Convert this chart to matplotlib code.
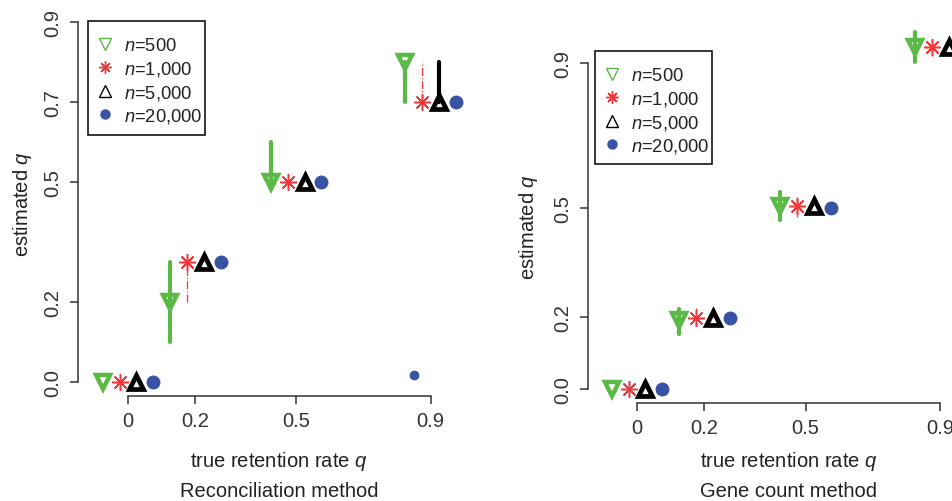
import matplotlib
matplotlib.use('Agg')
from matplotlib import pyplot as plt
from matplotlib.lines import Line2D
from matplotlib.patches import Rectangle

plt.rcParams['font.family'] = ['Liberation Sans', 'DejaVu Sans']
plt.rcParams['mathtext.fontset'] = 'custom'
plt.rcParams['mathtext.rm'] = 'Liberation Sans'
plt.rcParams['mathtext.it'] = 'Liberation Sans:italic'
plt.rcParams['font.size'] = 14.5

# true retention rates (x ticks)
true_q = [0, 0.2, 0.5, 0.9]
series_labels = ['$n$=500', '$n$=1,000', '$n$=5,000', '$n$=20,000']

# Reconciliation method: estimate, lower and upper ends of the bars
rec_est = {
    500: [0.0, 0.20, 0.50, 0.80],
    1000: [0.0, 0.30, 0.50, 0.70],
    5000: [0.0, 0.30, 0.50, 0.70],
    20000: [0.0, 0.30, 0.50, 0.70],
}
rec_lo = {
    500: [0.0, 0.10, 0.50, 0.70],
    1000: [0.0, 0.20, 0.50, 0.70],
    5000: [0.0, 0.30, 0.50, 0.70],
    20000: [0.0, 0.30, 0.50, 0.70],
}
rec_hi = {
    500: [0.0, 0.30, 0.60, 0.80],
    1000: [0.0, 0.30, 0.50, 0.80],
    5000: [0.0, 0.30, 0.50, 0.80],
    20000: [0.0, 0.30, 0.50, 0.70],
}
rec_extra_x = [0.85]
rec_extra_y = [0.018]

# Gene count method
gc_est = {
    500: [0.0, 0.19, 0.505, 0.945],
    1000: [0.0, 0.195, 0.505, 0.945],
    5000: [0.0, 0.195, 0.505, 0.945],
    20000: [0.0, 0.196, 0.50, 0.945],
}
gc_lo = {
    500: [0.0, 0.152, 0.467, 0.903],
    1000: [0.0, 0.174, 0.475, 0.92],
    5000: [0.0, 0.195, 0.505, 0.945],
    20000: [0.0, 0.196, 0.50, 0.945],
}
gc_hi = {
    500: [0.0, 0.221, 0.544, 0.986],
    1000: [0.0, 0.224, 0.53, 0.967],
    5000: [0.0, 0.195, 0.505, 0.945],
    20000: [0.0, 0.196, 0.50, 0.945],
}

# styling per sample size
sizes = [500, 1000, 5000, 20000]
offsets = [-0.075, -0.025, 0.025, 0.075]
colors = ['#5BBA47', '#F2373A', '#000000', '#3853A4']
markers = ['v', (8, 2, 0), '^', 'o']
msizes = [10.5, 12, 10.5, 9]
mews = [3.2, 1.1, 3.4, 0]
bar_styles = [('-', 3.0), ('-.', 0.9), ('-', 3.0), ('-', 1.0)]
axis_col = '#333333'

fig = plt.figure(figsize=(9.52, 5.02), dpi=100)


def draw_panel(ax, est, lo, hi, yticks, xlim, ylim):
    for i, n in enumerate(sizes):
        xs = [q + offsets[i] for q in true_q]
        ls, lw = bar_styles[i]
        for x, a, b in zip(xs, lo[n], hi[n]):
            if b - a > 1e-6:
                ax.plot([x, x], [a, b], color=colors[i], ls=ls, lw=lw,
                        solid_capstyle='round')
        if markers[i] == 'o':
            ax.plot(xs, est[n], ls='none', marker='o', ms=msizes[i],
                    mfc=colors[i], mec=colors[i])
        else:
            ax.plot(xs, est[n], ls='none', marker=markers[i], ms=msizes[i],
                    mfc='none', mec=colors[i], mew=mews[i])
    ax.set_xlim(*xlim)
    ax.set_ylim(*ylim)
    ax.set_xticks(true_q)
    ax.set_xticklabels(['0', '0.2', '0.5', '0.9'])
    ax.set_yticks(yticks)
    ax.set_yticklabels(['%.1f' % v for v in yticks], rotation=90, va='center')
    for s in ['top', 'right']:
        ax.spines[s].set_visible(False)
    ax.spines['left'].set_bounds(min(yticks), max(yticks))
    ax.spines['bottom'].set_bounds(0, 0.9)
    for s in ['left', 'bottom']:
        ax.spines[s].set_color(axis_col)
        ax.spines[s].set_linewidth(1.1)
    ax.tick_params(length=5.5, width=1.1, color=axis_col, labelcolor=axis_col)
    ax.tick_params(axis='x', pad=5)
    ax.tick_params(axis='y', pad=5.5)


def add_legend(box_px):
    # box_px = (left, top, width, height) in pixels from the top-left corner
    left, top, w, h = box_px
    handles = []
    for i in range(4):
        if markers[i] == 'o':
            hd = Line2D([], [], ls='none', marker='o', ms=6.5, mfc=colors[i],
                        mec=colors[i])
        else:
            hd = Line2D([], [], ls='none', marker=markers[i], ms=9,
                        mfc='none', mec=colors[i], mew=1.0)
        handles.append(hd)
    leg = fig.legend(handles, series_labels, loc='upper left',
                     bbox_to_anchor=((left + 13) / 952, 1 - (top + 16) / 502),
                     bbox_transform=fig.transFigure, frameon=False,
                     borderpad=0, labelspacing=0.26, handlelength=0.45,
                     handletextpad=0.78, borderaxespad=0, fontsize=13.2)
    for t in leg.get_texts():
        t.set_color('#222222')
    fig.add_artist(Rectangle((left / 952, 1 - (top + h) / 502), w / 952,
                             h / 502, transform=fig.transFigure, fill=False,
                             ec='black', lw=1.1))


# left panel: Reconciliation method
ax1 = fig.add_axes([78 / 952, 105 / 502, 401 / 952, 388.4 / 502])
draw_panel(ax1, rec_est, rec_lo, rec_hi, [0.0, 0.2, 0.5, 0.7, 0.9],
           (-0.149, 1.044), (-0.035, 0.936))
ax1.plot(rec_extra_x, rec_extra_y, ls='none', marker='o', ms=6,
         mfc=colors[3], mec=colors[3])
add_legend((88, 22, 117, 114))

# right panel: Gene count method
ax2 = fig.add_axes([588 / 952, 98 / 502, 401 / 952, 385 / 502])
draw_panel(ax2, gc_est, gc_lo, gc_hi, [0.0, 0.2, 0.5, 0.9],
           (-0.1454, 1.044), (-0.0387, 1.025))
add_legend((595, 52, 117, 113))

# axis titles
fig.text(22 / 952, 1 - 204 / 502, 'estimated $q$', rotation=90,
         ha='center', va='center', color='#222222')
fig.text(529 / 952, 1 - 227 / 502, 'estimated $q$', rotation=90,
         ha='center', va='center', color='#222222')
fig.text(279 / 952, 1 - 462 / 502, 'true retention rate $q$',
         ha='center', va='center', color='#222222')
fig.text(789 / 952, 1 - 462 / 502, 'true retention rate $q$',
         ha='center', va='center', color='#222222')
fig.text(279 / 952, 1 - 492 / 502, 'Reconciliation method',
         ha='center', va='center', color='#222222')
fig.text(789 / 952, 1 - 492 / 502, 'Gene count method',
         ha='center', va='center', color='#222222')

fig.savefig('out.png', dpi=100)
